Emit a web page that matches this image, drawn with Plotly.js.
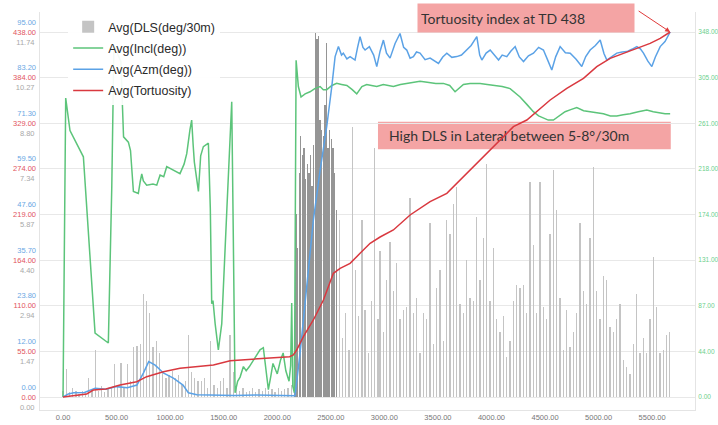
<!DOCTYPE html>
<html>
<head>
<meta charset="utf-8">
<script src="https://cdn.plot.ly/plotly-3.0.1.min.js"></script>
<style>html,body{margin:0;padding:0;background:#fff;}#chart{width:718px;height:425px;}</style>
</head>
<body>
<div id="chart"></div>
<script>
// ---------- DATA ----------
const xTickVals = [0,500,1000,1500,2000,2500,3000,3500,4000,4500,5000,5500];
const xTickText = ['0.00','500.00','1000.00','1500.00','2000.00','2500.00','3000.00','3500.00','4000.00','4500.00','5000.00','5500.00'];

const dlsMax = 11.74;
const dlsTickText = ['0.00','1.47','2.94','4.40','5.87','7.34','8.80','10.27','11.74'];
const greenMax = 348;
const greenTickText = ['0.00','44.00','87.00','131.00','174.00','218.00','261.00','305.00','348.00'];
const blueMax = 95;
const blueTickText = ['0.00','12.00','23.80','35.70','47.60','59.50','71.30','83.20','95.00'];
const tortMax = 438;
const tortTickText = ['0.00','55.00','110.00','164.00','219.00','274.00','329.00','384.00','438.00'];

// DLS bars (deg/30m)
const dlsMd = [0,30,60,90,120,150,180,210,240,270,300,330,360,390,420,450,480,510,540,570,600,630,660,690,720,750,780,810,840,870,900,930,960,990,1020,1050,1080,1110,1140,1170,1200,1230,1260,1290,1320,1350,1380,1410,1440,1470,1500,1530,1560,1590,1620,1650,1680,1710,1740,1770,1800,1830,1860,1890,1920,1950,1980,2010,2040,2070,2100,2130,
 2160,2175,2190,2205,2220,2235,2250,2265,2280,2295,2310,2325,2340,2355,2370,2385,2400,2415,2430,2445,2460,2475,2490,2505,2520,2535,2550,
 2580,2610,2640,2670,2700,2730,2760,2790,2820,2850,2880,2910,2940,
 2960,2991,3022,3053,3084,3116,3147,3178,3209,3240,3271,3302,3333,3364,3396,3427,3458,3489,3520,3551,3582,3613,3644,3676,3707,3738,3769,3800,3831,3862,3893,3924,3956,3987,4018,4049,4080,4111,4142,4173,4204,4236,4267,4298,4329,4360,4391,4422,4453,4484,4516,4547,4578,4609,4640,4671,4702,4733,4764,4796,4827,4858,4889,4920,4951,4982,5013,5044,5076,5107,5138,5169,5200,5231,5262,5293,5324,5356,5387,5418,5449,5480,5511,5542,5573,5604,5635,5661];
const dlsVal = [0.2,0.9,0.15,0.3,0.2,0.1,0.2,0.15,0.6,0.25,1.5,0.2,0.35,0.15,0.25,0.3,1.05,0.4,1.1,0.3,1.05,0.5,1.6,1.65,1.7,3.3,3.1,2.7,1.6,1.8,1.4,0.8,0.6,0.7,0.85,0.6,0.7,0.4,0.5,2.0,0.8,0.6,0.5,0.5,0.6,0.3,1.8,0.4,0.3,0.5,0.6,0.3,2.0,0.8,0.3,0.2,0.3,0.15,0.2,0.3,0.15,0.25,0.2,0.3,0.2,0.25,0.15,0.3,0.2,0.25,0.3,0.4,
 0.8,5.9,4.8,7.2,8.4,7.8,8.0,7.0,7.5,7.2,7.8,6.8,8.1,11.7,11.5,11.6,8.9,8.6,8.4,9.4,11.4,8.0,8.6,8.3,8.0,7.2,6.0,
 5.7,1.9,2.7,1.5,8.7,4.1,2.6,5.7,2.8,1.4,3.1,8.0,2.5,
 4.7,2.1,3.75,5.0,3.4,4.3,2.5,2.8,2.9,6.4,2.7,3.2,1.4,2.7,2.5,5.6,1.7,3.5,4.1,1.8,5.7,5.25,6.2,6.75,3.0,2.7,4.4,3.2,3.1,5.8,3.75,5.1,7.5,3.1,4.8,2.5,2.1,2.6,1.3,1.8,3.1,3.6,3.5,3.6,2.7,6.9,4.9,2.7,6.9,2.9,2.5,5.25,7.3,6.0,3.2,1.5,2.8,1.6,2.1,2.7,5.6,3.4,3.0,5.1,7.4,3.4,2.5,3.9,3.75,2.25,2.1,2.5,3.0,1.2,0.96,0.75,1.7,3.3,1.4,1.9,1.4,2.5,4.5,2.9,1.4,1.5,2.0,2.1];

// Green line (legend: Avg(Incl(deg))) on right axis
const greenMd = [0,25,65,190,299,423,455,475,540,555,565,610,630,657,703,720,735,750,781,840,875,906,940,968,1000,1040,1092,1130,1155,1185,1201,1215,1226,1264,1285,1310,1357,1375,1388,1400,1420,1450,1482,1530,1575,1590,1606,1630,1653,1684,1710,1740,1780,1810,1839,1870,1890,1917,1940,1960,2000,2030,2055,2080,2110,2125,2135,2145,2160,2176,2197,2222,2260,2306,2350,2400,2430,2462,2510,2555,2600,2650,2700,2742,2790,2835,2880,2929,2990,3040,3084,3150,3209,3270,3333,3400,3480,3551,3610,3660,3700,3738,3800,3894,3960,4040,4100,4174,4220,4267,4330,4391,4440,4485,4530,4578,4630,4687,4740,4796,4860,4920,4980,5045,5110,5170,5230,5294,5370,5450,5510,5574,5620,5668];
const greenVal = [0,285,254,229,61,51.5,200,335,320,280,248,243,235,196,194,205,212.6,206,202,203,202,211.6,210,219.6,218,216,213,222,232,255,264,240,224,196,230,238.7,242,180,89,92,70,45,70,180,281.5,150,4,15,19,29,25,29,35,40,45,47,30,7,20,32,22,35,42,25,15,30,89.6,10,4,321,296,286,289,291,294,296,293,293,297,299,298,297,293,289,296,298,297,296,298,297,296,298,299,300,301,300,299,299,297,291,295,298,299,299,298,297,296,294,290,286,279,272,268,265.7,264,264,268,272,274,276,273,272,271,270,268,268,269,270,272,273.6,272,271,270,270];

// Blue line (legend: Avg(Azm(deg))) on blue left axis
const blueMd = [0,50,100,200,300,400,500,600,690,750,800,860,940,1030,1120,1170,1250,1400,1600,1800,2000,2100,2166,2213,2275,2337,2400,2462,2509,2540,2571,2600,2617,2650,2680,2726,2750,2773,2800,2820,2860,2900,2929,2960,2991,3020,3053,3100,3146,3180,3209,3240,3271,3300,3333,3380,3427,3470,3505,3545,3583,3630,3676,3720,3770,3810,3863,3890,3910,3950,3988,4030,4066,4100,4143,4180,4221,4260,4299,4345,4392,4440,4485,4520,4563,4600,4641,4690,4735,4790,4843,4880,4921,4970,5015,5050,5077,5120,5170,5220,5264,5310,5357,5390,5419,5460,5497,5530,5575,5620,5668];
const blueVal = [0,0.8,1.1,1.2,2.3,2.0,2.7,2.4,3.1,6.2,9.2,8.3,6.2,4.9,3.1,1.1,0.6,0.5,0.4,0.5,0.3,0.3,0.3,11.4,28.7,46,59,70.4,80.8,88.6,91.2,89.0,89.5,88.0,88.6,87.7,91,93.8,91,90.3,91.2,89,86,90,92.9,89.5,88.2,92,94.6,91,90.3,88.2,88.6,89.8,89.5,87.8,88.2,87.5,86.8,88.5,89.5,88.4,88.6,89,90.3,91.5,93.8,89,87.7,89.5,90.3,88.9,87.7,89,88.6,90,91.2,88.5,87.3,88.8,89.5,91,90.3,88,85.1,88.6,91.2,89.6,89.5,87.9,86,88.6,90.3,91.5,92.9,89.4,87.7,88.5,89.5,89.8,89.9,90.5,91.2,90.6,89.5,87.4,86,88.5,91.2,92.5,95];

// Red line (Tortuosity)
const tortMd = [0,100,221,283,400,532,688,781,937,1092,1217,1404,1560,1700,1960,2115,2150,2181,2244,2337,2431,2524,2587,2680,2773,2867,2960,3084,3240,3427,3583,3707,3832,3956,4081,4205,4330,4423,4548,4703,4859,4983,5108,5232,5357,5481,5575,5668];
const tortVal = [0,1.5,3.6,8.4,9.6,14.4,18.4,24.4,30.4,34.4,36,38.4,43.6,45,47.6,48.4,50.4,56.4,72.4,92.4,116.4,148.4,154.4,160.4,172.4,184.4,192,200.4,218.4,234.4,244.4,260.4,276.4,292.4,308.4,324.4,332.4,342.4,356.4,370.4,382.4,396.4,406.4,412.4,418.4,424.4,430.4,438];

// ---------- STYLE / LAYOUT ----------
const LO = -0.035616, HI = 1.054793;
const rng = m => [LO*m, HI*m];
const tv = m => [0,1,2,3,4,5,6,7,8].map(k => m*k/8);
const tickFont = (c) => ({family:'Liberation Sans, Arial, sans-serif', size:7.5, color:c});

const C_GREEN = '#5cc47a', C_BLUE = '#5ba2e6', C_RED = '#d9383f';

const barColors = dlsMd.map((m,i) => {
  const gPrev = i>0 ? m - dlsMd[i-1] : 99;
  const gNext = i<dlsMd.length-1 ? dlsMd[i+1] - m : 99;
  return Math.min(gPrev,gNext) < 20 ? '#959595' : '#c4c4c4';
});

const traces = [
  {type:'bar', name:'Avg(DLS(deg/30m)', x:dlsMd, y:dlsVal, yaxis:'y', width:12,
   marker:{color:barColors, line:{width:0}}, legendgroup:'a'},
  {type:'scatter', mode:'lines', name:'Avg(Incl(deg))', x:greenMd, y:greenVal, yaxis:'y2',
   line:{color:C_GREEN, width:1.5}, legendgroup:'b'},
  {type:'scatter', mode:'lines', name:'Avg(Azm(deg))', x:blueMd, y:blueVal, yaxis:'y3',
   line:{color:C_BLUE, width:1.5}, legendgroup:'c'},
  {type:'scatter', mode:'lines', name:'Avg(Tortuosity)', x:tortMd, y:tortVal, yaxis:'y4',
   line:{color:C_RED, width:1.5}, legendgroup:'d'}
];

const yCommon = {ticks:'', zeroline:false, fixedrange:true, automargin:false, ticklabelstandoff:3};

const layout = {
  width:718, height:425,
  margin:{l:40, r:23, t:12, b:15},
  paper_bgcolor:'#fff', plot_bgcolor:'#fff',
  showlegend:true,
  bargap:0,
  xaxis:{range:[-215,5900], tickvals:xTickVals, ticktext:xTickText, tickfont:tickFont('#777'),
         showgrid:false, zeroline:false, showline:true, linecolor:'#e4e4e4', linewidth:1, ticks:'', automargin:false},
  yaxis:Object.assign({}, yCommon, {range:rng(dlsMax), tickvals:tv(dlsMax), ticktext:dlsTickText,
         tickfont:tickFont('#a8a8a8'), ticklabelshift:10, showgrid:true, gridcolor:'#e8e8e8',
         showline:true, linecolor:'#e4e4e4'}),
  yaxis2:Object.assign({}, yCommon, {range:rng(greenMax), tickvals:tv(greenMax), ticktext:greenTickText,
         tickfont:Object.assign(tickFont('#6ccf8c'), {size:6.5}), overlaying:'y', side:'right', anchor:'x', showgrid:false,
         showline:true, linecolor:'#e4e4e4', ticklabelstandoff:1}),
  yaxis3:Object.assign({}, yCommon, {range:rng(blueMax), tickvals:tv(blueMax), ticktext:blueTickText,
         tickfont:tickFont('#6aa8e4'), ticklabelshift:-10, overlaying:'y', side:'left', anchor:'x', showgrid:false}),
  yaxis4:Object.assign({}, yCommon, {range:rng(tortMax), tickvals:tv(tortMax), ticktext:tortTickText,
         tickfont:tickFont('#e2545c'), overlaying:'y', side:'left', anchor:'x', showgrid:false}),
  legend:{x:0.043, y:1.0, xanchor:'left', yanchor:'top', bgcolor:'rgba(255,255,255,0.93)',
          font:{family:'Liberation Sans, Arial, sans-serif', size:12.5, color:'#2a2a2a'},
          traceorder:'grouped', tracegroupgap:2, itemwidth:30},
  shapes:[
    {type:'rect', xref:'paper', yref:'paper', x0:0.516, x1:0.963, y0:0.655, y1:0.7244,
     fillcolor:'#f4a4a4', line:{width:0}, layer:'between',
     label:{text:'High DLS in Lateral between 5-8°/30m', textposition:'middle left', padding:8,
            font:{family:'Lato, Noto Sans, sans-serif', size:14, color:'#333'}}}
  ],
  annotations:[
    {xref:'paper', yref:'paper', x:0.742, y:0.9854, xanchor:'center', yanchor:'middle',
     text:'Tortuosity index at TD 438', showarrow:false, width:210, height:22, borderpad:3,
     align:'left', bgcolor:'#f4a4a4', font:{family:'Lato, Noto Sans, sans-serif', size:14, color:'#333'}},
    {xref:'x', yref:'y4', x:tortMd[tortMd.length-1], y:tortVal[tortVal.length-1], text:'',
     showarrow:true, ax:-33, ay:-22, arrowhead:2, arrowsize:1, arrowwidth:1, arrowcolor:'#e03a3a', standoff:0}
  ]
};

Plotly.newPlot('chart', traces, layout, {displayModeBar:false, staticPlot:true});
</script>
</body>
</html>
